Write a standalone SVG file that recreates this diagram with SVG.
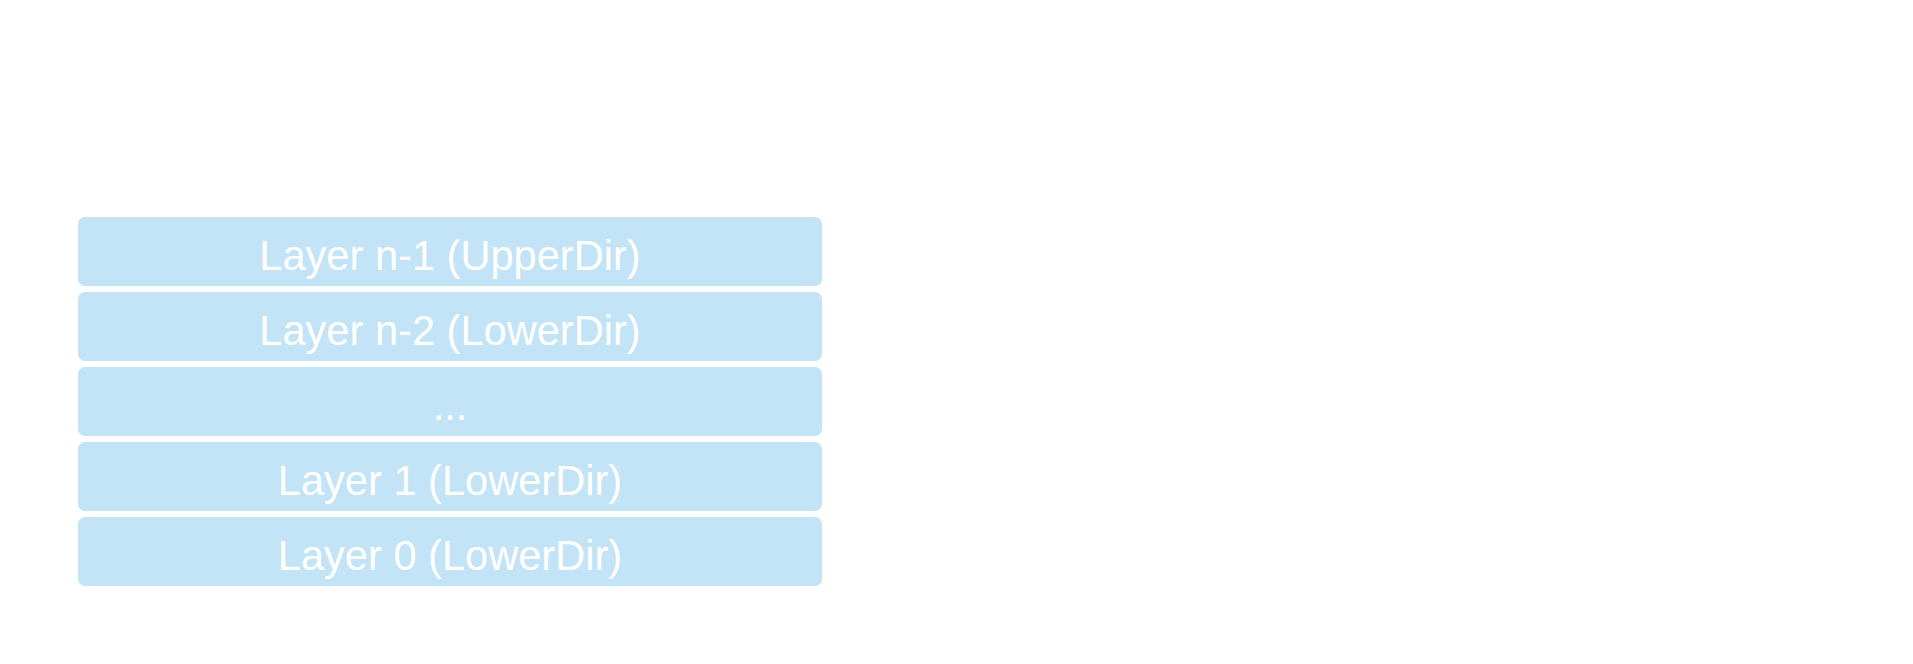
<svg xmlns="http://www.w3.org/2000/svg" width="1913" height="664" viewBox="0 0 1913 664">
<style>
.box{fill:#c2e4f6;}
.lbl{font-family:"Liberation Sans",Arial,sans-serif;font-size:41.6px;fill:#ffffff;text-anchor:middle;}
</style>
<rect width="1913" height="664" fill="#ffffff"/>
<g id="layer-n-1"><rect class="box" x="78" y="217" width="744" height="69" rx="7"/><text class="lbl" x="450" y="270">Layer n-1 (UpperDir)</text></g>
<g id="layer-n-2"><rect class="box" x="78" y="292" width="744" height="69" rx="7"/><text class="lbl" x="450" y="345">Layer n-2 (LowerDir)</text></g>
<g id="layer-dots"><rect class="box" x="78" y="367" width="744" height="69" rx="7"/><text class="lbl" x="450" y="420">...</text></g>
<g id="layer-1"><rect class="box" x="78" y="442" width="744" height="69" rx="7"/><text class="lbl" x="450" y="495">Layer 1 (LowerDir)</text></g>
<g id="layer-0"><rect class="box" x="78" y="517" width="744" height="69" rx="7"/><text class="lbl" x="450" y="570">Layer 0 (LowerDir)</text></g>
<g id="connectors"></g>
</svg>
